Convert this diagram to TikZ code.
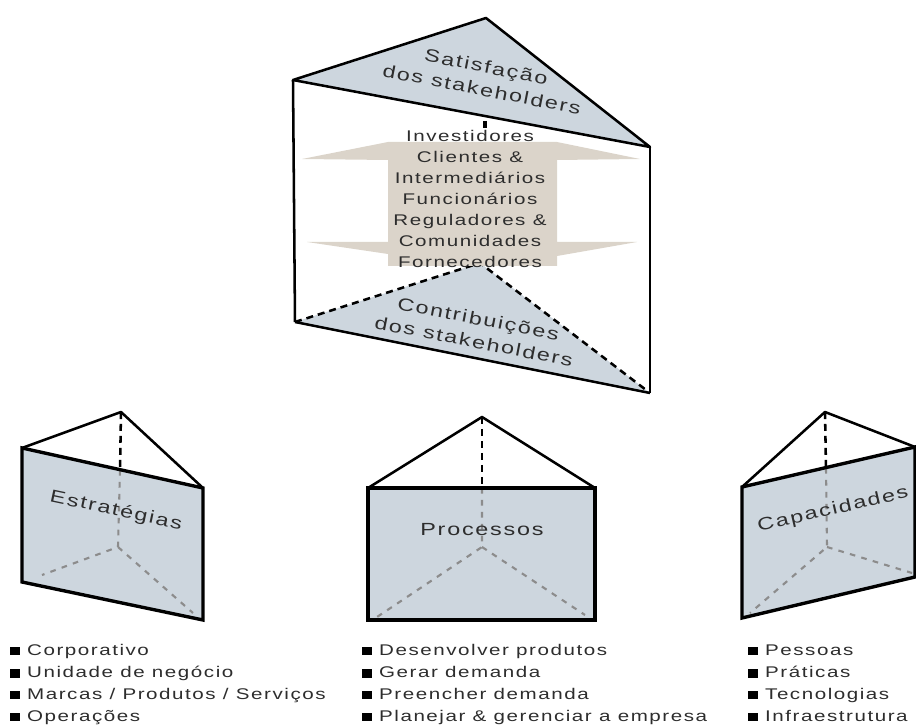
\documentclass[tikz,border=0pt]{standalone}
\usepackage{fontspec}
\setmainfont{Liberation Sans}
\newfontfamily\widefont[FakeStretch=1.33,LetterSpace=10]{Liberation Sans}

\definecolor{face}{RGB}{205,214,222}
\definecolor{band}{RGB}{219,212,202}
\definecolor{ink}{RGB}{45,45,45}
\definecolor{hidden}{RGB}{140,140,140}

\tikzset{
  edge/.style={line width=1.8pt, line join=round},
  faceedge/.style={line width=2.4pt, line join=miter},
  backedge/.style={line width=1.8pt, dash pattern=on 5pt off 3.5pt},
  greyedge/.style={line width=1.5pt, hidden, dash pattern=on 4pt off 4.5pt},
  label/.style={font=\widefont\fontsize{12.5}{16.5}\selectfont, text=ink, align=center, inner sep=0pt},
  group/.style={font=\widefont\fontsize{11}{14.9}\selectfont, text=ink, align=center, inner sep=0pt},
  item/.style={font=\widefont\fontsize{11}{15}\selectfont, text=ink, anchor=base west, inner sep=0pt},
}
\newcommand{\bul}{\textcolor{black}{\rule{7pt}{6pt}}\hspace{5pt}}

\begin{document}
\begin{tikzpicture}[x=0.025cm, y=-0.025cm]
    \useasboundingbox (0,0) rectangle (916,727);

    % Stakeholder prism
    \coordinate (top_apex) at (486,18);
    \coordinate (top_left) at (293,80);
    \coordinate (top_right) at (650,147);
    \coordinate (bot_apex) at (480,263);
    \coordinate (bot_left) at (295,322);
    \coordinate (bot_right) at (650,393);

    % Contributions face
    \fill [face] (bot_left) -- (bot_apex) -- (bot_right) -- cycle;
    \draw [backedge] (bot_left) -- (bot_apex) -- (bot_right);
    \draw [edge] (bot_left) -- (bot_right);

    % Satisfaction face and sides
    \draw [edge, fill=face] (top_left) -- (top_apex) -- (top_right) -- cycle;
    \draw [edge] (top_left) -- (bot_left);
    \draw [edge] (top_right) -- (bot_right);
    \draw [line width=2.8pt] (485,121) -- (485,128); % back edge

    % Exchange band
    \fill [band] (388,142) -- (557,142) -- (640,159) -- (557,160) -- (557,242) -- (637,242)
        -- (557,256) -- (557,266) -- (388,266) -- (388,254) -- (307,242) -- (388,242)
        -- (388,160) -- (302,159) -- cycle;

    \node [group] (stake) at (470,199) {Investidores\\Clientes \&\\Intermediários\\Funcionários\\Reguladores \&\\Comunidades\\Fornecedores};
    \node [label, rotate=-11] (sat) at (484,78) {Satisfação\\dos stakeholders};
    \node [label, rotate=-11] (contrib) at (476,330) {Contribuições\\dos stakeholders};

    % Strategies prism
    \coordinate (est_apex) at (121,412);
    \coordinate (est_tl) at (22,448);
    \coordinate (est_tr) at (203,488);
    \coordinate (est_br) at (203,620);
    \coordinate (est_bl) at (22,582);
    \coordinate (est_back) at (118,547);
    \fill [face] (est_tl) -- (est_tr) -- (est_br) -- (est_bl) -- cycle;
    \draw [greyedge] (120,470) -- (est_back) -- (42,575) (est_back) -- (193,613);
    \draw [backedge] (est_apex) -- (120,470);
    \draw [edge] (est_tl) -- (est_apex) -- (est_tr);
    \draw [faceedge] (est_tl) -- (est_tr) -- (est_br) -- (est_bl) -- cycle;
    \node [label, rotate=-12] (est) at (116,511) {Estratégias};

    % Processes prism
    \coordinate (pro_apex) at (482,417);
    \coordinate (pro_tl) at (368,488);
    \coordinate (pro_tr) at (595,488);
    \coordinate (pro_br) at (595,620);
    \coordinate (pro_bl) at (368,620);
    \coordinate (pro_back) at (482,547);
    \fill [face] (pro_tl) -- (pro_tr) -- (pro_br) -- (pro_bl) -- cycle;
    \draw [greyedge] (482,488) -- (pro_back) -- (377,617) (pro_back) -- (585,615);
    \draw [backedge] (pro_apex) -- (482,488);
    \draw [edge] (pro_tl) -- (pro_apex) -- (pro_tr);
    \draw [faceedge] (pro_tl) -- (pro_tr) -- (pro_br) -- (pro_bl) -- cycle;
    \node [label] (pro) at (482,530) {Processos};

    % Capabilities prism
    \coordinate (cap_apex) at (825,412);
    \coordinate (cap_tl) at (742,487);
    \coordinate (cap_tr) at (915,447);
    \coordinate (cap_br) at (915,577);
    \coordinate (cap_bl) at (742,618);
    \coordinate (cap_back) at (827,547);
    \fill [face] (cap_tl) -- (cap_tr) -- (cap_br) -- (cap_bl) -- cycle;
    \draw [greyedge] (826,468) -- (cap_back) -- (750,613) (cap_back) -- (912,573);
    \draw [backedge] (cap_apex) -- (826,468);
    \draw [edge] (cap_tl) -- (cap_apex) -- (cap_tr);
    \draw [faceedge] (cap_tl) -- (cap_tr) -- (cap_br) -- (cap_bl) -- cycle;
    \node [label, rotate=13] (cap) at (833,510) {Capacidades};

    % Lists
    \foreach \txt [count=\i] in {Corporativo, Unidade de negócio, Marcas / Produtos / Serviços, Operações}
        \node [item] (est_item\i) at (10,633.5+22*\i) {\bul\txt};
    \foreach \txt [count=\i] in {Desenvolver produtos, Gerar demanda, Preencher demanda, Planejar \& gerenciar a empresa}
        \node [item] (pro_item\i) at (362,633.5+22*\i) {\bul\txt};
    \foreach \txt [count=\i] in {Pessoas, Práticas, Tecnologias, Infraestrutura}
        \node [item] (cap_item\i) at (748,633.5+22*\i) {\bul\txt};
\end{tikzpicture}
\end{document}
